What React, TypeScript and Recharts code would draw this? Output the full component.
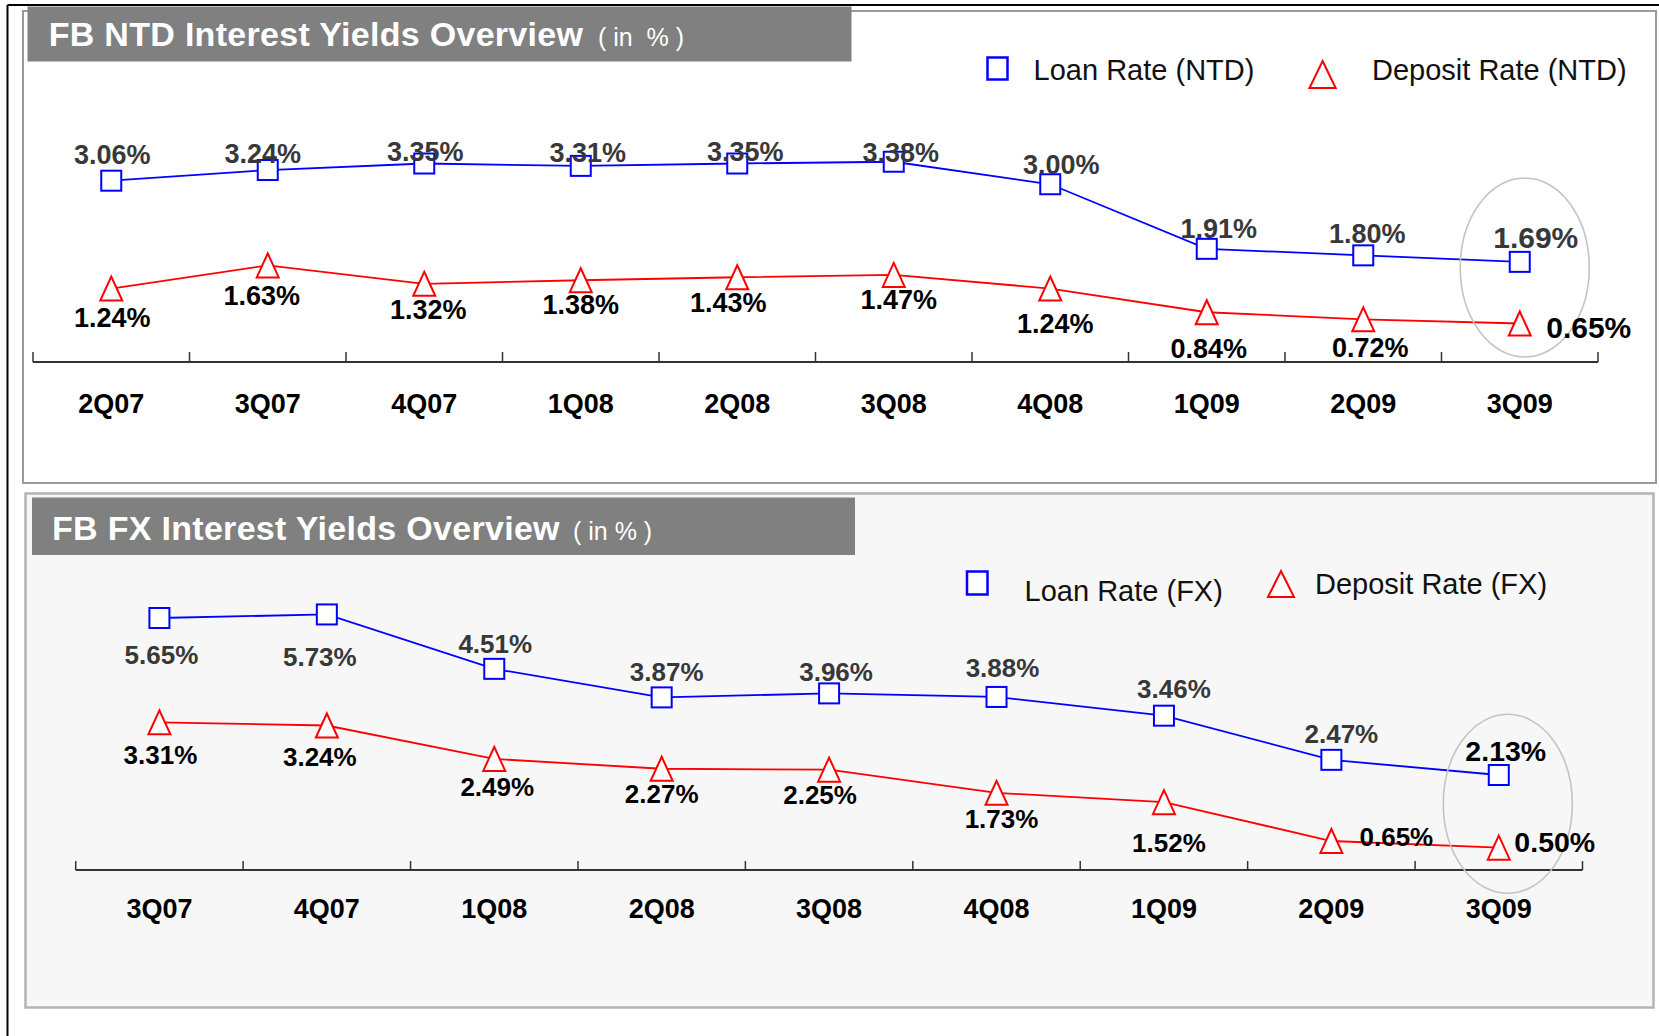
import React from 'react';
import { LineChart, Line, XAxis, YAxis, LabelList, ReferenceDot } from 'recharts';

// ---------- data ----------
const ntdQuarters = ['2Q07', '3Q07', '4Q07', '1Q08', '2Q08', '3Q08', '4Q08', '1Q09', '2Q09', '3Q09'];
const ntdLoanRate = [3.06, 3.24, 3.35, 3.31, 3.35, 3.38, 3.0, 1.91, 1.8, 1.69];
const ntdDepositRate = [1.24, 1.63, 1.32, 1.38, 1.43, 1.47, 1.24, 0.84, 0.72, 0.65];

const fxQuarters = ['3Q07', '4Q07', '1Q08', '2Q08', '3Q08', '4Q08', '1Q09', '2Q09', '3Q09'];
const fxLoanRate = [5.65, 5.73, 4.51, 3.87, 3.96, 3.88, 3.46, 2.47, 2.13];
const fxDepositRate = [3.31, 3.24, 2.49, 2.27, 2.25, 1.73, 1.52, 0.65, 0.5];

// label nudges (relative to each point, px)
const ntdLoanNudge = [[1, -26], [-5, -17], [1, -12], [7, -14], [8, -12], [7, -9], [11, -20], [12, -21], [4, -22], [16, -25]];
const ntdDepositNudge = [[1, 29], [-6, 30], [4, 25], [0, 24], [-9, 25], [5, 24], [5, 35], [2, 36], [7, 28], [69, 4]];
const fxLoanNudge = [[2, 37], [-7, 42], [1, -25], [5, -26], [7, -22], [6, -29], [10, -27], [10, -26], [7, -24]];
const fxDepositNudge = [[1, 32], [-7, 31], [3, 28], [0, 25], [-9, 25], [5, 26], [5, 40], [65, -4], [56, -6]];

const FONT = "'Liberation Sans', Arial, Helvetica, sans-serif";
const BLUE = '#0000ff';
const RED = '#ff0000';

const buildRows = (qs: string[], loan: number[], dep: number[]) =>
  qs.map((q, i) => ({ q, loan: loan[i], deposit: dep[i] }));

const ntdRows = buildRows(ntdQuarters, ntdLoanRate, ntdDepositRate);
const fxRows = buildRows(fxQuarters, fxLoanRate, fxDepositRate);

const SquareDot = (props: any) => {
  const { cx, cy, index } = props;
  if (cx == null || cy == null) return <g key={`s${index}`} />;
  return (
    <rect key={`s${index}`} x={cx - 10} y={cy - 10} width={20} height={20} fill="#ffffff" stroke={BLUE} strokeWidth={2} />
  );
};

const TriangleDot = (props: any) => {
  const { cx, cy, index } = props;
  if (cx == null || cy == null) return <g key={`t${index}`} />;
  return (
    <path
      key={`t${index}`}
      d={`M${cx},${cy - 12} L${cx + 11},${cy + 12} L${cx - 11},${cy + 12} Z`}
      fill="#ffffff"
      stroke={RED}
      strokeWidth={2}
    />
  );
};

const makeLabel = (
  nudges: number[][],
  color: string,
  size: number,
  lastSize: number,
  lastColor: string,
  count: number
) => (props: any) => {
  const { index, value } = props;
  const px = props.x ?? props.viewBox?.x;
  const py = props.y ?? props.viewBox?.y;
  if (px == null || py == null || value == null) return null;
  const n = nudges[index] || [0, 0];
  const isLast = index === count - 1;
  const fs = isLast ? lastSize : size;
  return (
    <text
      key={`l${index}`}
      x={px + n[0]}
      y={py + n[1] + fs * 0.36}
      textAnchor="middle"
      fontFamily={FONT}
      fontWeight="bold"
      fontSize={fs}
      fill={isLast ? lastColor : color}
    >
      {Number(value).toFixed(2)}%
    </text>
  );
};

const makeTick = (step: number, count: number, labelDy: number, tickLen: number) => (props: any) => {
  const { x, y, payload, index } = props;
  return (
    <g key={`tk${index}`}>
      <line x1={x - step / 2} x2={x - step / 2} y1={y} y2={y - tickLen} stroke="#333" strokeWidth={1.5} />
      {index === count - 1 && (
        <line x1={x + step / 2} x2={x + step / 2} y1={y} y2={y - tickLen} stroke="#333" strokeWidth={1.5} />
      )}
      <text x={x} y={y + labelDy} textAnchor="middle" fontFamily={FONT} fontSize={27} fontWeight="bold" fill="#000">
        {payload.value}
      </text>
    </g>
  );
};

const Ellipse = (dx: number) => (props: any) => {
  const { cx, cy } = props;
  if (cx == null || cy == null) return <g />;
  return <ellipse cx={cx + dx} cy={cy} rx={64.5} ry={89.5} fill="none" stroke="#c4c4c4" strokeWidth={1.6} />;
};

// ---------- layout constants ----------
const W = 1659;
const NTD_H = 480;
const NTD_LEFT = 33;
const NTD_RIGHT_EDGE = 1598;
const NTD_STEP = (NTD_RIGHT_EDGE - NTD_LEFT) / ntdQuarters.length;
const NTD_AXIS_Y = 362;

const FX_TOP = 480;
const FX_H = 556;
const FX_LEFT = 75.7;
const FX_RIGHT_EDGE = 1582.5;
const FX_STEP = (FX_RIGHT_EDGE - FX_LEFT) / fxQuarters.length;
const FX_AXIS_Y = 870 - FX_TOP;

const AXIS_H = 40;

const Background = () => (
  <svg width={W} height={1036} style={{ position: 'absolute', left: 0, top: 0 }}>
    <rect x={0} y={0} width={W} height={1036} fill="#ffffff" />
    {/* outer frame */}
    <line x1={7.5} y1={5} x2={7.5} y2={1036} stroke="#000" strokeWidth={2} />
    <line x1={7.5} y1={5} x2={W} y2={5} stroke="#000" strokeWidth={2} />
    {/* top panel */}
    <rect x={23} y={11} width={1633} height={472} fill="#ffffff" stroke="#9a9a9a" strokeWidth={2} />
    {/* bottom panel */}
    <rect x={25.5} y={493.5} width={1628} height={514} fill="#f7f7f7" stroke="#b4b4b4" strokeWidth={2.5} />
    {/* banners */}
    <rect x={27.5} y={6.5} width={824} height={55} fill="#808080" />
    <rect x={32} y={497.5} width={823} height={57.5} fill="#808080" />
    <text x={48.7} y={46} fontFamily={FONT} fontSize={34} fontWeight="bold" fill="#fff" letterSpacing={0.3}>
      FB NTD Interest Yields Overview
    </text>
    <text x={598} y={46} fontFamily={FONT} fontSize={25} fill="#fff" style={{ whiteSpace: 'pre' }}>
      {'( in  % )'}
    </text>
    <text x={52} y={540} fontFamily={FONT} fontSize={34} fontWeight="bold" fill="#fff" letterSpacing={0.3}>
      FB FX Interest Yields Overview
    </text>
    <text x={573} y={540} fontFamily={FONT} fontSize={25} fill="#fff" style={{ whiteSpace: 'pre' }}>
      {'( in % )'}
    </text>
    {/* NTD legend */}
    <rect x={987.5} y={57.5} width={20} height={22} fill="#fff" stroke={BLUE} strokeWidth={2.5} />
    <text x={1033.6} y={80} fontFamily={FONT} fontSize={29} fill="#111">Loan Rate (NTD)</text>
    <path d="M1322.6,61 L1335.7,88 L1309.5,88 Z" fill="#fff" stroke={RED} strokeWidth={2} />
    <text x={1372} y={80} fontFamily={FONT} fontSize={29} fill="#111">Deposit Rate (NTD)</text>
    {/* FX legend */}
    <rect x={967} y={571.5} width={20.5} height={23} fill="#fff" stroke={BLUE} strokeWidth={2.5} />
    <text x={1024.6} y={600.6} fontFamily={FONT} fontSize={29} fill="#111">Loan Rate (FX)</text>
    <path d="M1281,571 L1294,597 L1268,597 Z" fill="#fff" stroke={RED} strokeWidth={2} />
    <text x={1315} y={594} fontFamily={FONT} fontSize={29} fill="#111">Deposit Rate (FX)</text>
  </svg>
);

export default function App() {
  const ntdMargin = {
    top: NTD_AXIS_Y - 237,
    right: W - NTD_RIGHT_EDGE,
    bottom: NTD_H - NTD_AXIS_Y - AXIS_H,
    left: NTD_LEFT,
  };
  const fxPlotH = 267.6;
  const fxMargin = {
    top: FX_AXIS_Y - fxPlotH,
    right: W - FX_RIGHT_EDGE,
    bottom: FX_H - FX_AXIS_Y - AXIS_H,
    left: FX_LEFT,
  };
  return (
    <div style={{ position: 'absolute', left: 0, top: 0, width: W, height: 1036, background: '#fff', fontFamily: FONT }}>
      <Background />
      <div style={{ position: 'absolute', left: 0, top: 0 }}>
        <LineChart width={W} height={NTD_H} data={ntdRows} margin={ntdMargin}>
          <XAxis
            dataKey="q"
            interval={0}
            padding={{ left: NTD_STEP / 2, right: NTD_STEP / 2 }}
            tickSize={0}
            tickMargin={0}
            tickLine={false}
            height={AXIS_H}
            axisLine={{ stroke: '#333', strokeWidth: 2 }}
            tick={makeTick(NTD_STEP, ntdQuarters.length, 51, 10)}
          />
          <YAxis hide domain={[0, 4]} />
          <ReferenceDot x="3Q09" y={1.595} r={1} shape={Ellipse(5)} />
          <Line
            dataKey="loan"
            stroke={BLUE}
            strokeWidth={1.8}
            dot={(p: any) => <SquareDot {...p} key={`s${p.index}`} />}
            activeDot={false}
            isAnimationActive={false}
          >
            <LabelList dataKey="loan" content={makeLabel(ntdLoanNudge, '#383838', 27, 30, '#383838', ntdQuarters.length)} />
          </Line>
          <Line
            dataKey="deposit"
            stroke={RED}
            strokeWidth={1.8}
            dot={(p: any) => <TriangleDot {...p} key={`t${p.index}`} />}
            activeDot={false}
            isAnimationActive={false}
          >
            <LabelList dataKey="deposit" content={makeLabel(ntdDepositNudge, '#000', 27, 30, '#000', ntdQuarters.length)} />
          </Line>
        </LineChart>
      </div>
      <div style={{ position: 'absolute', left: 0, top: FX_TOP }}>
        <LineChart width={W} height={FX_H} data={fxRows} margin={fxMargin}>
          <XAxis
            dataKey="q"
            interval={0}
            padding={{ left: FX_STEP / 2, right: FX_STEP / 2 }}
            tickSize={0}
            tickMargin={0}
            tickLine={false}
            height={AXIS_H}
            axisLine={{ stroke: '#333', strokeWidth: 2 }}
            tick={makeTick(FX_STEP, fxQuarters.length, 48, 9)}
          />
          <YAxis hide domain={[0, 6]} />
          <ReferenceDot x="3Q09" y={1.484} r={1} shape={Ellipse(9)} />
          <Line
            dataKey="loan"
            stroke={BLUE}
            strokeWidth={1.8}
            dot={(p: any) => <SquareDot {...p} key={`s${p.index}`} />}
            activeDot={false}
            isAnimationActive={false}
          >
            <LabelList dataKey="loan" content={makeLabel(fxLoanNudge, '#383838', 26, 28.5, '#000', fxQuarters.length)} />
          </Line>
          <Line
            dataKey="deposit"
            stroke={RED}
            strokeWidth={1.8}
            dot={(p: any) => <TriangleDot {...p} key={`t${p.index}`} />}
            activeDot={false}
            isAnimationActive={false}
          >
            <LabelList dataKey="deposit" content={makeLabel(fxDepositNudge, '#000', 26, 28.5, '#000', fxQuarters.length)} />
          </Line>
        </LineChart>
      </div>
    </div>
  );
}
